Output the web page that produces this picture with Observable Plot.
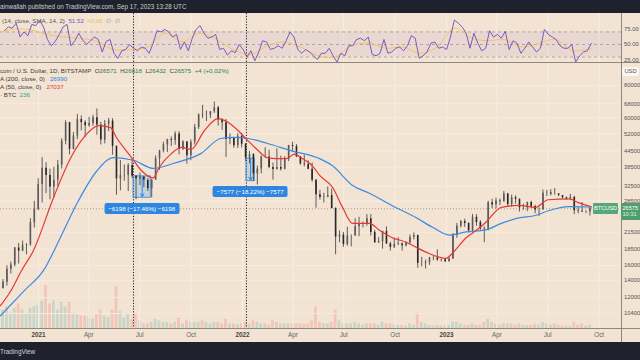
<!DOCTYPE html>
<html><head><meta charset="utf-8">
<script src="https://cdn.jsdelivr.net/npm/d3@7"></script>
<script src="https://cdn.jsdelivr.net/npm/@observablehq/plot@0.6"></script>
<style>
html,body{margin:0;padding:0;background:#1f222c;overflow:hidden;}
#wrap{position:relative;width:640px;height:360px;overflow:hidden;background:#f2e3d3;font-family:"Liberation Sans",Arial,sans-serif;}
.bar{position:absolute;left:0;width:640px;background:#1f222c;color:#c9ccd3;font-size:6.3px;white-space:nowrap;}
.txt{position:absolute;font-size:6.2px;line-height:8px;color:#3c3c3c;white-space:nowrap;}
.hl{position:absolute;left:0;width:640px;height:1px;background:#8e8781;}
.vl{position:absolute;width:1px;background:#8e8781;}
.pl{position:absolute;left:0;}
.mlab{position:absolute;background:#2f86e0;color:#fff;font-size:6.2px;line-height:11px;height:11px;padding:0 4px;border-radius:2px;white-space:nowrap;transform:translateX(-50%);}
</style></head>
<body><div id="wrap"></div>
<script>
// ---------- DATA (weekly bars, USD thousands) ----------
const firstWeek = "2020-10-26", lastWeekStop = "2023-09-12";
const opensK = [13.03,13.76,15.48,16.07,18.70,18.18,19.16,19.27,23.47,26.44,
33.00,38.20,35.80,32.25,34.30,39.30,48.60,57.40,45.20,50.90,
59.00,57.40,55.80,57.00,60.00,56.20,49.10,56.60,58.20,46.40,
34.70,35.70,35.80,39.10,35.50,34.70,35.30,34.25,31.80,34.30,
41.60,44.60,47.10,49.30,48.90,51.80,45.20,48.30,42.70,48.20,
54.95,61.50,61.30,61.30,63.30,65.50,58.70,57.30,49.40,50.10,
46.70,50.80,47.30,41.90,43.10,36.30,37.90,42.20,42.20,38.40,
37.70,38.40,37.80,41.30,46.80,46.40,42.20,39.70,39.50,37.80,
34.30,30.10,29.40,29.50,29.90,26.60,20.60,21.00,19.30,20.80,
20.80,22.60,23.30,23.20,24.30,21.50,19.60,19.80,21.70,19.40,
18.80,19.30,19.40,19.10,19.60,20.60,20.90,16.30,16.30,16.45,
17.10,17.10,16.80,16.84,16.54,16.95,20.90,22.70,23.70,23.30,
21.80,24.60,23.50,22.20,22.10,28.00,27.50,28.50,28.30,30.30,
27.60,29.30,28.90,26.80,26.80,28.10,27.10,26.30,26.30,30.50,
30.60,30.30,30.30,29.90,29.30,29.10,29.40,26.10,26.00,25.80,
25.80];
const highsK = [14.10,15.96,16.48,18.80,19.48,19.90,19.42,24.30,28.40,34.80,
41.95,40.10,37.85,38.50,40.95,49.70,58.35,57.50,52.60,61.80,
61.00,58.40,60.20,61.30,64.90,57.60,58.50,59.60,59.50,46.60,
40.90,39.30,39.80,41.30,35.75,36.60,35.30,34.65,34.60,42.60,
44.80,48.20,49.40,50.50,52.90,52.90,48.80,48.40,49.20,56.50,
62.00,67.00,63.70,63.20,69.00,66.30,59.40,59.00,51.90,50.20,
52.00,52.10,47.60,44.40,43.50,38.90,42.60,45.80,44.80,40.00,
45.40,42.50,42.30,46.80,48.20,47.20,42.40,42.90,40.80,40.00,
34.50,31.30,30.50,32.30,31.70,26.80,21.80,21.50,22.50,21.00,
24.30,24.60,23.60,25.20,25.20,21.90,20.50,21.70,22.60,19.70,
20.40,20.50,19.60,19.70,21.00,21.40,21.00,17.20,16.80,17.20,
17.40,18.40,16.95,16.95,17.10,21.30,23.30,23.90,24.20,23.40,
25.25,25.20,23.90,22.60,28.40,28.90,29.20,29.00,31.00,30.50,
30.00,29.80,29.00,27.70,28.20,28.40,27.40,26.80,31.40,31.30,
31.50,31.80,30.40,29.90,29.50,30.20,29.70,26.80,28.10,26.10,
26.90];
const lowsK = [12.95,13.30,14.83,15.80,16.20,18.10,17.60,19.00,22.35,26.10,
28.00,30.40,28.80,29.30,32.30,37.90,47.10,43.00,45.00,49.30,
53.30,50.40,55.00,55.50,51.30,47.00,47.50,53.00,42.90,30.00,
31.20,34.00,31.00,34.80,28.80,32.70,32.10,31.00,29.30,34.30,
37.50,43.80,43.90,46.40,46.90,43.00,44.70,39.60,40.80,47.00,
54.00,59.50,58.00,59.50,62.30,55.60,53.50,42.00,47.10,45.60,
45.60,45.70,40.60,39.70,34.00,32.90,36.30,41.70,38.00,34.30,
37.50,37.20,37.60,40.50,44.20,42.00,39.20,38.60,37.70,33.70,
26.70,28.70,28.00,29.30,26.60,17.60,19.60,18.80,19.00,18.90,
20.80,20.70,22.40,22.70,20.80,19.50,19.50,18.50,19.30,18.20,
18.60,19.10,18.20,18.90,19.30,20.10,15.60,15.80,15.50,16.00,
16.70,16.60,16.50,16.40,16.50,16.90,20.40,22.40,22.50,21.40,
21.40,22.70,21.90,19.60,21.80,26.60,26.50,27.30,28.20,27.10,
26.90,27.70,25.80,26.20,25.90,26.60,25.40,24.80,26.30,29.60,
29.80,30.00,29.60,29.00,28.60,28.70,25.20,25.40,25.70,25.40,
24.90];
const closesK = [13.76,15.48,16.07,18.70,18.18,19.16,19.27,23.47,26.44,33.00,
38.20,35.80,32.25,34.30,39.30,48.60,57.40,45.20,50.90,59.00,
57.40,55.80,57.00,60.00,56.20,49.10,56.60,58.20,46.40,34.70,
35.70,35.80,39.10,35.50,34.70,35.30,34.25,31.80,34.30,41.60,
44.60,47.10,49.30,48.90,51.80,45.20,48.30,42.70,48.20,54.95,
61.50,61.30,61.30,63.30,65.50,58.70,57.30,49.40,50.10,46.70,
50.80,47.30,41.90,43.10,36.30,37.90,42.20,42.20,38.40,37.70,
38.40,37.80,41.30,46.80,46.40,42.20,39.70,39.50,37.80,34.30,
30.10,29.40,29.50,29.90,26.60,20.60,21.00,19.30,20.80,20.80,
22.60,23.30,23.20,24.30,21.50,19.60,19.80,21.70,19.40,18.80,
19.30,19.40,19.10,19.60,20.60,20.90,16.30,16.30,16.45,17.10,
17.10,16.80,16.84,16.54,16.95,20.90,22.70,23.70,23.30,21.80,
24.60,23.50,22.20,22.10,28.00,27.50,28.50,28.30,30.30,27.60,
29.30,28.90,26.80,26.80,28.10,27.10,26.30,26.30,30.50,30.60,
30.30,30.30,29.90,29.30,29.10,29.40,26.10,26.00,25.80,25.80,
26.575];
const rsiWeekly = [72,78,76,84,62,70,64,82,80,88,
78,58,48,55,66,78,82,48,56,68,
57,50,56,62,58,38,55,58,36,28,
40,42,50,44,40,46,44,36,52,72,
70,74,70,62,66,42,54,40,60,74,
80,68,60,62,66,42,44,33,40,37,
50,42,30,40,24,38,56,54,42,44,
48,44,56,70,62,42,36,42,38,32,
26,36,36,44,32,22,36,32,48,48,
58,60,56,62,34,32,36,58,36,38,
44,46,40,48,64,60,28,32,38,52,
54,44,46,42,62,89,84,78,68,44,
68,52,40,44,72,62,66,60,71,42,
56,52,36,44,54,46,38,44,74,66,
62,58,48,44,44,50,22,32,38,40,
51.52];
const volumeK = [12,14,10,13,16,12,9,13,14,15,
18,28,16,18,12,17,14,17,10,9,
8,8,7,6,9,12,8,7,12,27,
11,7,9,6,10,5,3,3,4,6,
5,4,4,3,4,7,3,5,4,4,
4,5,4,3,4,4,3,6,3,3,
2.5,3,4,3,5,4,3,3,2.5,5,
4,3,3,3,3,3,3,2.5,3,5,
14,4,3,3,4,12,5,3,3,3,
4,3,2,3,3,3,2,4,3,3,
2.5,2,2,1.5,3,2,10,4,3,2,
1.5,2,1.5,1.5,2,4,4,3,2,2,
3,2,2,4,6,4,3,2,3,3,
3,2,3,2,2,2,2.5,2.5,4,3,
2,3,2,1.5,1.5,1.5,4,2,3,1.5,
2];

const rsiMaDates = ["2020-10-26","2020-11-15","2020-12-15","2021-01-15","2021-02-15","2021-03-15","2021-04-15","2021-05-15","2021-06-15","2021-07-15","2021-08-15","2021-09-15","2021-10-15","2021-11-15","2021-12-15","2022-01-15","2022-02-15","2022-03-15","2022-04-15","2022-05-15","2022-06-15","2022-07-15","2022-08-15","2022-09-15","2022-10-15","2022-11-15","2022-12-15","2023-01-15","2023-02-15","2023-03-15","2023-04-15","2023-05-15","2023-06-15","2023-07-15","2023-08-15","2023-09-17"];
const rsiMaValues = [70,74,74,66,62,60,55,42,42,46,68,54,68,58,42,34,48,54,46,32,30,48,52,44,46,36,46,76,60,56,58,46,52,58,40,43.86];

const ma50Dates = ["2020-10-25","2020-11-12","2020-12-01","2020-12-23","2021-01-28","2021-02-28","2021-03-23","2021-04-19","2021-05-10","2021-05-21","2021-06-11","2021-06-20","2021-07-04","2021-07-25","2021-08-05","2021-08-26","2021-09-14","2021-10-01","2021-10-25","2021-11-18","2021-12-06","2021-12-24","2022-01-10","2022-01-28","2022-02-14","2022-03-03","2022-03-21","2022-04-04","2022-04-18","2022-05-06","2022-05-19","2022-06-11","2022-06-29","2022-07-17","2022-08-16","2022-09-03","2022-09-26","2022-10-21","2022-11-08","2022-12-01","2022-12-31","2023-01-11","2023-02-05","2023-02-28","2023-03-12","2023-04-09","2023-05-10","2023-06-09","2023-07-02","2023-08-08","2023-08-26","2023-09-17"];
const ma50K = [11.17,12.7,15.2,18.3,29.4,42.0,50.3,55.9,54.9,50.0,43.5,41.0,37.4,35.0,38.5,43.4,46.0,45.2,53.5,59.5,57.6,53.5,49.0,44.9,42.0,41.6,41.6,43.3,41.6,39.0,35.8,32.2,26.9,23.3,23.3,21.9,20.5,19.7,18.8,17.8,17.05,17.8,20.5,22.3,23.5,26.9,27.4,26.9,28.8,29.0,28.0,27.037];
const ma200Dates = ["2020-10-25","2020-12-07","2021-01-10","2021-02-09","2021-03-11","2021-04-16","2021-05-15","2021-06-20","2021-07-26","2021-08-31","2021-10-19","2021-11-23","2021-12-17","2022-01-11","2022-02-15","2022-03-28","2022-05-19","2022-06-11","2022-07-17","2022-08-16","2022-09-26","2022-11-08","2022-12-07","2023-01-06","2023-02-05","2023-03-12","2023-04-09","2023-05-10","2023-06-09","2023-07-02","2023-08-08","2023-09-17"];
const ma200K = [10.2,12.8,15.3,20.5,27.9,37.4,42.0,41.0,38.1,39.9,43.6,49.8,50.3,49.8,47.6,44.7,41.6,39.0,32.7,30.5,27.3,24.5,22.5,21.0,21.6,22.0,23.3,24.5,25.0,26.1,27.1,26.99];

const xTickDates = ["2021-01-01","2021-04-01","2021-07-01","2021-10-01","2022-01-01","2022-04-01","2022-07-01","2022-10-01","2023-01-01","2023-04-01","2023-07-01","2023-10-01"];
const xTickLabels = ["2021","Apr","Jul","Oct","2022","Apr","Jul","Oct","2023","Apr","Jul","Oct"];
const priceTicks = [80000,68000,60000,52000,44500,38500,32500,28500,21500,18500,16000,14000,12000,10400];
const rsiTicks = [25,50,75];
const rsiLevels = [70,50,30];
const rsiBand = [30,70];

const markerDates = ["2021-06-20","2022-01-08"];
const measureStart = ["2021-06-20","2022-01-08"];
const measureEnd = ["2021-07-21","2022-01-23"];
const measureFrom = [35498,41586];
const measureTo = [29300,34009];
const measureText = ["\u22126198 (\u221217.46%) \u22126198","\u22127577 (\u221218.22%) \u22127577"];

const lastBar = {O:"26571", H:"26618", L:"26432", C:"26575", chg:"+4 (+0.02%)"};
const lastClose = 26575;
const countdown = "10:31";
const legendMA = ["26990","27037"];
const legendVol = "236";
const legendRSI = ["51.52","43.86"];

// ---------- BUILD ----------
const font = "'Liberation Sans', Arial, sans-serif";
const xDomain = [new Date("2020-10-25"), new Date("2023-11-10")];
const weeks = d3.utcMonday.range(new Date(firstWeek), new Date(lastWeekStop));
const bars = weeks.map((w, i) => ({
  mid: d3.utcHour.offset(w, 84),
  end: d3.utcDay.offset(w, 6),
  vx1: d3.utcHour.offset(w, 24),
  vx2: d3.utcHour.offset(w, 144),
  open: opensK[i]*1000, high: highsK[i]*1000, low: lowsK[i]*1000, close: closesK[i]*1000,
  rsi: rsiWeekly[i], vol: volumeK[i]
}));
const xTicks = xTickDates.map((d,i) => ({date: new Date(d), label: xTickLabels[i], year: /^\d{4}$/.test(xTickLabels[i])}));
const ma50 = ma50Dates.map((d,i) => ({date: new Date(d), v: ma50K[i]*1000}));
const ma200 = ma200Dates.map((d,i) => ({date: new Date(d), v: ma200K[i]*1000}));
const rsiMa = rsiMaDates.map((d,i) => ({date: new Date(d), v: rsiMaValues[i]}));
const markers = markerDates.map(d => new Date(d));
const measures = measureStart.map((d,i) => ({
  start: new Date(d), end: new Date(measureEnd[i]),
  mid: new Date((new Date(d).getTime() + new Date(measureEnd[i]).getTime())/2),
  from: measureFrom[i], to: measureTo[i], text: measureText[i]
}));
const style = {background:"transparent", fontFamily: font, fontSize:"5.9px", color:"#555", overflow:"visible"};
const wrap = document.getElementById("wrap");
function put(el, top, left=0){ const d=document.createElement("div"); d.className="pl"; d.style.top=top+"px"; d.style.left=left+"px"; d.appendChild(el); wrap.appendChild(d); return d; }
function div(cls, css, html){ const d=document.createElement("div"); d.className=cls; d.style.cssText=css; d.innerHTML=html; wrap.appendChild(d); return d; }

// volume (behind)
const volPlot = Plot.plot({
  width:640, height:80, marginTop:0, marginBottom:0, marginLeft:0, marginRight:19, style,
  x:{type:"utc", domain:xDomain, axis:null},
  y:{domain:[0,52], axis:null},
  marks:[
    Plot.rectY(bars, {x1:"vx1", x2:"vx2", y:"vol", fill: d => d.close >= d.open ? "#26a69a" : "#ef5350", fillOpacity:0.2})
  ]
});
put(volPlot, 248);

// main price pane
const main = Plot.plot({
  width:640, height:280, marginTop:0, marginBottom:14, marginLeft:0, marginRight:19, style,
  x:{type:"utc", domain:xDomain, axis:null},
  y:{type:"log", domain:[9103, 98270], axis:"right", ticks:priceTicks, tickFormat:d=>String(d), tickSize:0, tickPadding:2.5, label:null},
  marks:[
    Plot.ruleX(xTicks, {x:"date", stroke:"#f8eee5", strokeWidth:1}),
    Plot.ruleY(priceTicks, {stroke:"#f6ebe0", strokeWidth:1}),
    Plot.ruleY([lastClose], {stroke:"#b49d88", strokeDasharray:"1,2", strokeWidth:1}),
    Plot.ruleX(markers, {stroke:"#1e1e1e", strokeDasharray:"1.2,1.6", strokeWidth:1}),
    Plot.rect(measures, {x1:"start", x2:"end", y1:"from", y2:"to", fill:"#2196f3", fillOpacity:0.22, stroke:"#2f86e0", strokeOpacity:0.8, strokeWidth:1}),
    Plot.arrow(measures, {x1:"mid", x2:"mid", y1:"from", y2:"to", stroke:"#2f86e0", strokeWidth:1, headLength:5, insetEnd:1}),
    Plot.ruleX(bars, {x:"mid", y1:"low", y2:"high", stroke:"#3a3a3a", strokeWidth:0.8}),
    Plot.ruleX(bars, {x:"mid", y1:"open", y2:"close", stroke: d => d.close >= d.open ? "#5a5a5a" : "#262626", strokeWidth:1.6}),
    Plot.line(ma200, {x:"date", y:"v", stroke:"#3b8de0", strokeWidth:1.2, curve:"monotone-x", clip:true}),
    Plot.line(ma50, {x:"date", y:"v", stroke:"#e53935", strokeWidth:1.2, curve:"monotone-x", clip:true}),
    Plot.text(xTicks.filter(d=>!d.year), {x:"date", text:"label", frameAnchor:"bottom", dy:8, fill:"#666", fontSize:6.3}),
    Plot.text(xTicks.filter(d=>d.year), {x:"date", text:"label", frameAnchor:"bottom", dy:8, fill:"#444", fontWeight:"bold", fontSize:6.3})
  ]
});
put(main, 62);

// RSI pane
const rsiPlot = Plot.plot({
  width:640, height:49, marginTop:0, marginBottom:0, marginLeft:0, marginRight:19, style,
  x:{type:"utc", domain:xDomain, axis:null},
  y:{domain:[21.3, 99.4], axis:"right", ticks:rsiTicks, tickFormat:d3.format(".2f"), tickSize:0, tickPadding:2.5, label:null},
  marks:[
    Plot.ruleX(xTicks, {x:"date", stroke:"#f8eee5", strokeWidth:1}),
    Plot.rect([rsiBand], {x1:() => xDomain[0], x2:() => xDomain[1], y1:d=>d[0], y2:d=>d[1], fill:"#7e57c2", fillOpacity:0.08}),
    Plot.ruleY(rsiLevels, {stroke:"#8a8480", strokeDasharray:"3,3", strokeOpacity:0.75, strokeWidth:0.8}),
    Plot.ruleX(markers, {stroke:"#1e1e1e", strokeDasharray:"1.2,1.6", strokeWidth:1}),
    Plot.line(rsiMa, {x:"date", y:"v", stroke:"#f2c14e", strokeOpacity:0.85, strokeWidth:1, curve:"catmull-rom", clip:true}),
    Plot.line(bars, {x:"end", y:"rsi", stroke:"#7e57c2", strokeWidth:1, clip:true})
  ]
});
put(rsiPlot, 13);

// pane borders
div("hl", "top:62px;", "");
div("hl", "top:328px;", "");
div("vl", "left:621px;top:13px;height:330px;", "");

// top & bottom bars
div("bar", "top:0;height:13px;line-height:14px;", "ainwallah published on TradingView.com, Sep 17, 2023 13:28 UTC");
div("bar", "top:342px;height:18px;line-height:19px;font-size:6.4px;color:#d4d6dc;", "TradingView");

// legends
div("txt", "top:17.3px;left:2px;color:#555;",
  `(14, close, SMA, 14, 2)&nbsp; <span style="color:#7e57c2">${legendRSI[0]}</span>&nbsp; <span style="color:#e9c463">${legendRSI[1]}</span>&nbsp; <span style="color:#999">\u2205&nbsp; \u2205</span>`);
div("txt", "top:66.7px;left:0;",
  `coin / U.S. Dollar, 1D, BITSTAMP&nbsp; O<span style="color:#2e7d57">${lastBar.O}</span>&nbsp; H<span style="color:#2e7d57">${lastBar.H}</span>&nbsp; L<span style="color:#2e7d57">${lastBar.L}</span>&nbsp; C<span style="color:#2e7d57">${lastBar.C}</span>&nbsp; <span style="color:#2e7d57">${lastBar.chg}</span><br>` +
  `A (200, close, 0)&nbsp;&nbsp; <span style="color:#2f86e0">${legendMA[0]}</span><br>` +
  `A (50, close, 0)&nbsp;&nbsp; <span style="color:#e53935">${legendMA[1]}</span><br>` +
  `\u00b7 BTC&nbsp; <span style="color:#26a69a">${legendVol}</span>`);

// USD box
div("txt", "top:66.5px;left:622px;width:17px;height:9.5px;line-height:9.5px;background:#fbf7f2;border-radius:2px;text-align:center;color:#555;font-size:5.8px;", "USD");

// scale-driven overlays
const xs = main.scale("x"), ys = main.scale("y");
measures.forEach(m => {
  const cx = xs.apply(m.mid);
  const top = 62 + ys.apply(m.to) + 5.5;
  div("mlab", `left:${cx}px;top:${top}px;`, m.text);
});
const py = 62 + ys.apply(lastClose);
div("txt", `left:593px;top:${py-5.5}px;width:25px;height:11px;line-height:11px;background:#57a878;color:#fff;text-align:center;font-size:5.6px;border-radius:1px;`, "BTCUSD");
div("txt", `left:621px;top:${py-5.5}px;width:19px;height:17px;line-height:6.5px;background:#4f9e70;color:#fff;font-size:5.6px;padding-left:1.5px;padding-top:2px;box-sizing:border-box;`, `${lastClose}<br><span style="opacity:0.85">${countdown}</span>`);
</script></body></html>
